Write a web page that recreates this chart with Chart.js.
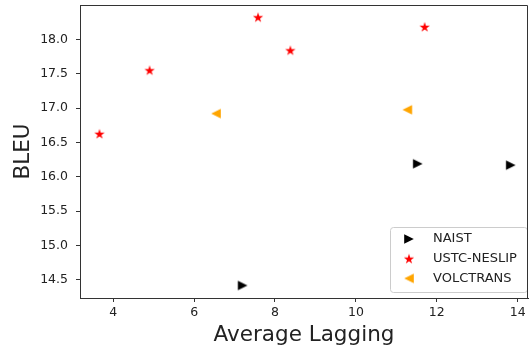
<!DOCTYPE html>
<html>
<head>
<meta charset="utf-8">
<script src="https://cdn.jsdelivr.net/npm/chart.js@4.4.0/dist/chart.umd.min.js"></script>
<style>
  html, body { margin: 0; padding: 0; background: #fff; }
</style>
</head>
<body>
<canvas id="chart" width="529" height="353"></canvas>
<script>
// values
const seriesNames = ['NAIST', 'USTC-NESLIP', 'VOLCTRANS'];
const naistX = [11.53, 13.83, 7.20];
const naistY = [16.19, 16.17, 14.42];
const ustcX = [3.66, 4.90, 7.58, 8.38, 11.70];
const ustcY = [16.625, 17.55, 18.32, 17.84, 18.18];
const volcX = [6.54, 11.27];
const volcY = [16.92, 16.975];
const xTicks = [4, 6, 8, 10, 12, 14];
const yTicks = [14.5, 15.0, 15.5, 16.0, 16.5, 17.0, 17.5, 18.0];

const FONT = "'DejaVu Sans', sans-serif";
const TEXT = '#222';
const AXIS = '#333';

// marker images, matplotlib style
function marker(kind, color) {
    const c = document.createElement('canvas');
    c.width = 12; c.height = 12;
    const g = c.getContext('2d');
    g.fillStyle = color;
    g.beginPath();
    const cx = 6, cy = 6, h = 4.8;
    if (kind === 'right') {
        g.moveTo(cx + h, cy);
        g.lineTo(cx - h, cy - h);
        g.lineTo(cx - h, cy + h);
    } else if (kind === 'left') {
        g.moveTo(cx - h, cy);
        g.lineTo(cx + h, cy - h);
        g.lineTo(cx + h, cy + h);
    } else {
        const R = 5.4, r = R * 0.382;
        for (let i = 0; i < 10; i++) {
            const rad = (i % 2 === 0) ? R : r;
            const ang = -Math.PI / 2 + i * Math.PI / 5;
            const px = cx + rad * Math.cos(ang), py = cy + 0.5 + rad * Math.sin(ang);
            if (i === 0) g.moveTo(px, py); else g.lineTo(px, py);
        }
    }
    g.closePath();
    g.fill();
    return c;
}

function toPoints(xs, ys) {
    return xs.map((x, i) => ({ x: x, y: ys[i] }));
}

// drop the extra room chart.js keeps for edge tick labels
function noEdgePadding(s) {
    s.paddingTop = 0; s.paddingBottom = 0;
    s.paddingLeft = 0; s.paddingRight = 0;
}

// legend box in the lower right corner + top/right spines
const legendBox = {
    id: 'legendBox',
    afterDatasetsDraw(chart) {
        const ctx = chart.ctx, a = chart.chartArea;
        const bx = a.right - 138, by = a.bottom - 71, bw = 137, bh = 65;
        ctx.save();
        ctx.beginPath();
        ctx.roundRect(bx + 0.5, by + 0.5, bw, bh, 3);
        ctx.fillStyle = 'rgba(255,255,255,0.8)';
        ctx.fill();
        ctx.strokeStyle = '#cccccc';
        ctx.lineWidth = 1;
        ctx.stroke();
        ctx.font = '13px ' + FONT;
        ctx.fillStyle = TEXT;
        ctx.textBaseline = 'middle';
        chart.data.datasets.forEach((ds, i) => {
            const my = by + 12 + i * 19.7;
            ctx.drawImage(ds.pointStyle, bx + 19 - 6, my - 6);
            ctx.fillText(ds.label, bx + 43, my);
        });
        ctx.strokeStyle = AXIS;
        ctx.beginPath();
        ctx.moveTo(Math.round(a.left) + 0.5, Math.round(a.top) + 0.5);
        ctx.lineTo(Math.round(a.right) - 0.5, Math.round(a.top) + 0.5);
        ctx.lineTo(Math.round(a.right) - 0.5, Math.round(a.bottom));
        ctx.stroke();
        ctx.restore();
    }
};

new Chart(document.getElementById('chart'), {
    type: 'scatter',
    data: {
        datasets: [
            { label: seriesNames[0], data: toPoints(naistX, naistY), pointStyle: marker('right', '#000000'), pointRadius: 5, backgroundColor: '#000000' },
            { label: seriesNames[1], data: toPoints(ustcX, ustcY), pointStyle: marker('star', '#ff0000'), pointRadius: 5, backgroundColor: '#ff0000' },
            { label: seriesNames[2], data: toPoints(volcX, volcY), pointStyle: marker('left', '#ffa500'), pointRadius: 5, backgroundColor: '#ffa500' }
        ]
    },
    options: {
        responsive: false,
        animation: false,
        layout: { autoPadding: false, padding: { top: 5, right: 1, left: 0, bottom: 0 } },
        plugins: {
            legend: { display: false },
            tooltip: { enabled: false }
        },
        scales: {
            x: {
                type: 'linear',
                min: 3.179,
                max: 14.255,
                afterBuildTicks: s => { s.ticks = xTicks.map(v => ({ value: v })); },
                afterFit: s => { s.height = 55; noEdgePadding(s); },
                ticks: { font: { family: FONT, size: 12.5 }, color: TEXT, padding: 3.5, maxRotation: 0, callback: v => String(v) },
                grid: { drawOnChartArea: false, drawTicks: true, tickLength: 4, color: AXIS },
                border: { display: true, color: AXIS, width: 1 },
                title: { display: true, text: 'Average Lagging', font: { family: FONT, size: 21.5 }, color: TEXT, padding: { top: 0, bottom: 5 } }
            },
            y: {
                type: 'linear',
                min: 14.238,
                max: 18.499,
                afterBuildTicks: s => { s.ticks = yTicks.map(v => ({ value: v })); },
                afterFit: s => { s.width = 80; noEdgePadding(s); },
                ticks: { font: { family: FONT, size: 12.5 }, color: TEXT, padding: 8, callback: v => v.toFixed(1) },
                grid: { drawOnChartArea: false, drawTicks: true, tickLength: 4, color: AXIS },
                border: { display: true, color: AXIS, width: 1 },
                title: { display: true, text: 'BLEU', font: { family: FONT, size: 21.5 }, color: TEXT, padding: { top: 11, bottom: 0 } }
            }
        }
    },
    plugins: [legendBox]
});
</script>
</body>
</html>
